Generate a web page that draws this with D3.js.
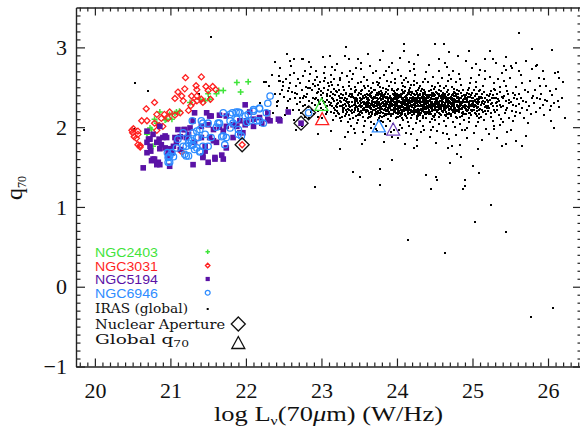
<!DOCTYPE html>
<html lang="en">
<head>
<meta charset="UTF-8">
<title>q70 vs log L70</title>
<script src="https://cdn.jsdelivr.net/npm/d3@7/dist/d3.min.js"></script>
<style>
  html, body { margin: 0; padding: 0; background: #fff; }
  svg { display: block; }
</style>
</head>
<body>
<div id="chart"></div>
<script>
// ---- tick values ----
const xMajor = [20, 21, 22, 23, 24, 25, 26];
const yMajor = [-1, 0, 1, 2, 3];

// ---- resolved galaxies: [log L70, q70] ----
const ngc2403 = [[21.88,2.56],[22.03,2.57],[21.93,2.44],[21.50,2.42],[21.61,2.42],[21.70,2.46],[21.64,2.46],[21.39,2.35],[21.46,2.33],[21.52,2.35],[20.86,2.19],[21.08,2.19],[20.95,2.10],[21.02,2.10],[20.82,2.05],[20.75,1.97],[20.77,1.76],[21.12,2.20],[21.06,2.17],[20.99,2.16],[20.79,2.10],[20.73,1.99],[20.69,1.93],[20.93,2.09],[21.26,2.31],[20.69,1.91]];

const ngc3031 = [[21.20,2.62],[21.41,2.63],[21.34,2.52],[21.47,2.51],[21.19,2.48],[21.10,2.44],[21.35,2.47],[21.50,2.46],[21.15,2.39],[21.28,2.39],[21.35,2.39],[21.41,2.35],[21.06,2.36],[20.79,2.31],[21.17,2.33],[21.30,2.31],[21.43,2.31],[21.27,2.27],[20.68,2.23],[20.99,2.19],[21.13,2.18],[21.06,2.15],[21.24,2.21],[20.82,2.16],[20.92,2.16],[20.88,2.11],[20.97,2.11],[20.69,2.08],[20.62,2.08],[20.79,2.05],[20.90,2.01],[20.51,1.98],[20.57,1.95],[20.50,1.93],[20.57,1.91],[20.52,1.88],[20.60,1.77],[20.82,1.96],[21.15,1.69],[20.85,2.02],[21.35,2.33],[20.49,1.96],[20.55,1.86],[20.57,1.78],[20.60,1.75],[21.56,2.51],[21.60,2.47],[21.53,2.35]];

const ngc5194 = [[21.99,2.28],[21.48,2.18],[21.54,2.14],[21.65,2.15],[21.74,2.14],[21.19,1.97],[21.26,1.99],[21.10,1.97],[21.41,2.01],[21.50,2.03],[21.57,1.97],[21.65,2.00],[21.74,2.01],[21.83,2.03],[21.92,2.08],[22.01,2.08],[22.10,2.10],[22.18,2.12],[22.29,2.10],[22.43,2.10],[22.56,2.19],[21.06,1.87],[20.90,1.87],[20.82,1.81],[20.86,1.73],[20.93,1.74],[20.97,1.68],[20.77,1.60],[20.86,1.53],[20.64,1.49],[20.73,1.76],[20.69,1.81],[21.21,1.87],[21.32,1.81],[21.41,1.87],[21.57,1.83],[21.46,1.76],[21.30,1.53],[21.50,1.56],[21.59,1.60],[21.68,1.65],[21.74,1.74],[21.83,1.87],[21.92,1.93],[20.99,1.51],[21.43,1.64],[22.05,2.19],[22.29,2.18],[22.45,2.08],[22.32,2.08],[22.21,2.05],[22.10,2.01],[21.99,2.03],[21.70,1.95],[21.61,1.81],[21.52,1.87],[21.30,2.08],[21.46,1.70],[21.59,1.62],[21.43,1.62],[21.70,1.60],[21.96,1.93],[21.88,2.01],[21.52,2.14],[21.32,2.18],[20.75,1.58],[20.84,1.56],[20.69,1.68],[20.71,1.85],[20.77,1.91],[20.86,2.01],[20.93,1.89],[21.04,1.76],[21.02,1.68],[20.97,1.64],[20.69,1.95],[21.18,1.97],[21.24,1.91],[21.13,1.88],[20.95,1.87],[20.73,1.85],[20.74,1.70],[20.79,1.60],[20.82,1.53],[20.99,1.73],[21.13,1.72],[20.85,1.85],[20.88,1.78],[21.08,1.81]];

const ngc6946 = [[22.32,2.39],[21.70,2.18],[21.79,2.16],[21.87,2.19],[21.92,2.18],[22.03,2.16],[22.10,2.22],[22.18,2.23],[22.27,2.18],[22.14,2.08],[22.23,2.05],[22.01,2.06],[21.88,2.10],[21.79,2.08],[21.65,2.05],[21.61,2.00],[21.41,2.08],[21.29,2.08],[21.39,1.97],[21.46,1.91],[21.54,1.87],[21.68,1.88],[21.74,1.87],[21.90,1.97],[21.94,1.89],[21.37,1.87],[21.24,1.85],[21.28,1.77],[21.35,1.74],[21.50,1.76],[21.39,1.69],[21.24,1.64],[21.10,1.85],[21.08,1.74],[21.02,1.68],[20.99,1.56],[20.97,1.62],[21.21,1.76],[21.17,1.93],[21.35,1.95],[21.72,1.78],[22.29,2.30],[22.18,2.24],[22.10,2.20],[21.90,2.19],[21.82,2.18],[21.50,2.05],[21.43,2.05],[21.35,1.87],[21.30,1.78],[21.43,1.76],[21.39,1.70],[21.32,1.72],[21.83,2.05],[22.05,2.08],[22.18,2.08],[21.99,2.14],[21.79,1.99],[21.70,1.89],[21.90,1.91],[21.63,2.05],[20.99,1.64],[20.97,1.56],[21.17,1.76],[21.19,1.66],[21.28,1.83],[21.30,1.93],[20.96,1.68],[21.04,1.63],[21.21,1.64],[21.24,1.80]];

// ---- IRAS global sample ----
const irasLeft = [[22.27,2.56],[22.45,2.58],[22.56,2.45],[22.67,2.41],[22.45,2.41],[22.58,2.35],[22.85,2.49],[22.96,2.53],[23.02,2.43],[22.91,2.35],[22.41,2.31],[22.78,2.28],[22.38,2.82],[22.44,2.64],[22.74,2.85],[22.58,2.66],[22.78,2.70],[22.65,2.43],[22.71,2.37],[22.56,2.20],[22.18,2.30],[22.49,2.56],
[22.31,2.52],[22.36,2.18],[22.38,2.41],[22.34,2.65],
[22.42,2.33],[22.44,2.58],[22.47,2.12],[22.45,2.74],[22.48,2.47],[22.41,2.27],
[22.51,2.38],[22.53,2.61],[22.55,2.24],[22.57,2.49],[22.58,2.83],[22.52,2.15],[22.56,2.33],[22.59,2.55],
[22.61,2.44],[22.62,2.21],[22.64,2.68],[22.65,2.36],[22.66,2.52],[22.68,2.29],[22.69,2.60],[22.63,2.09],[22.67,2.42],[22.60,2.77],
[22.71,2.31],[22.72,2.55],[22.73,2.18],[22.74,2.46],[22.75,2.64],[22.76,2.27],[22.77,2.39],[22.78,2.71],[22.79,2.50],[22.70,2.22],[22.75,2.36],[22.78,2.13],
[22.81,2.42],[22.82,2.25],[22.83,2.58],[22.84,2.33],[22.85,2.67],[22.86,2.19],[22.87,2.47],[22.88,2.30],[22.89,2.54],[22.80,2.38],[22.84,2.12],[22.86,2.75],[22.88,2.22],[22.82,2.49],[22.89,2.36],
[22.91,2.28],[22.92,2.51],[22.93,2.37],[22.94,2.63],[22.95,2.20],[22.96,2.44],[22.97,2.31],[22.98,2.57],[22.99,2.40],[22.90,2.16],[22.93,2.70],[22.95,2.34],[22.97,2.48],[22.99,2.24],[22.91,2.59],[22.96,2.13],[22.98,2.29],[22.94,2.43],
[23.01,2.36],[23.02,2.21],[23.03,2.49],[23.04,2.30],[23.05,2.62],[23.06,2.17],[23.07,2.41],[23.08,2.27],[23.09,2.55],[23.00,2.45],[23.02,2.33],[23.04,2.68],[23.06,2.25],[23.08,2.39],[23.01,2.12],[23.03,2.58],[23.05,2.31],[23.07,2.19],[23.09,2.46],[23.05,2.76],[23.02,2.43],[23.08,2.34],
[23.11,2.28],[23.12,2.44],[23.13,2.19],[23.14,2.53],[23.15,2.35],[23.16,2.24],[23.17,2.61],[23.18,2.40],[23.19,2.14],[23.10,2.31],[23.12,2.66],[23.14,2.27],[23.16,2.48],[23.18,2.21],[23.11,2.39],[23.13,2.56],[23.15,2.09],[23.17,2.33],[23.19,2.45],[23.10,2.52],[23.14,2.37],[23.16,2.18],[23.18,2.72],[23.12,2.30],[23.19,2.26],[23.15,2.42],
[23.21,2.34],[23.22,2.18],[23.23,2.47],[23.24,2.26],[23.25,2.59],[23.26,2.31],[23.27,2.13],[23.28,2.40],[23.29,2.22],[23.20,2.29],[23.22,2.53],[23.24,2.37],[23.26,2.08],[23.28,2.24],[23.21,2.44],[23.23,2.16],[23.25,2.33],[23.27,2.68],[23.29,2.28],[23.20,2.20],[23.23,2.39],[23.25,2.12],[23.27,2.36],[23.29,2.50],[23.21,2.25],[23.24,2.62],[23.26,2.42],[23.28,2.19],[23.22,2.30],[23.27,2.27],
[23.31,2.29],[23.32,2.41],[23.33,2.17],[23.34,2.35],[23.35,2.23],[23.36,2.52],[23.37,2.28],[23.38,2.10],[23.39,2.38],[23.30,2.46],[23.32,2.21],[23.34,2.64],[23.36,2.32],[23.38,2.25],[23.31,2.14],[23.33,2.43],[23.35,2.30],[23.37,2.57],[23.39,2.20],[23.30,2.34],[23.33,2.26],[23.35,2.06],[23.37,2.39],[23.39,2.48],[23.31,2.37],[23.34,2.19],[23.36,2.27],[23.38,2.71],[23.32,2.33],[23.36,2.15],[23.38,2.42],[23.30,2.24],[23.34,2.31],[23.37,2.22],
[23.41,2.26],[23.42,2.38],[23.43,2.19],[23.44,2.44],[23.45,2.31],[23.46,2.14],[23.47,2.35],[23.48,2.55],[23.49,2.23],[23.40,2.32],[23.42,2.11],[23.44,2.29],[23.46,2.47],[23.48,2.20],[23.41,2.61],[23.43,2.36],[23.45,2.24],[23.47,2.05],[23.49,2.40],[23.40,2.18],[23.43,2.28],[23.45,2.50],[23.47,2.33],[23.49,2.15],[23.41,2.42],[23.44,2.21],[23.46,2.37],[23.48,2.30],[23.42,2.67],[23.46,2.27],[23.48,2.09],[23.40,2.39],[23.44,2.34],[23.47,2.25],[23.43,1.98],[23.45,2.45],[23.49,2.30],[23.41,2.22]];

const irasMid = [[23.51,2.33],[23.52,2.20],[23.53,2.41],[23.54,2.27],[23.55,2.13],[23.56,2.36],[23.57,2.24],[23.58,2.49],[23.59,2.30],[23.50,2.17],[23.52,2.45],[23.54,2.35],[23.56,2.22],[23.58,2.08],[23.51,2.28],[23.53,2.56],[23.55,2.39],[23.57,2.31],[23.59,2.19],[23.50,2.43],[23.53,2.25],[23.55,2.32],[23.57,2.63],[23.59,2.38],[23.51,2.15],[23.54,2.46],[23.56,2.29],[23.58,2.21],[23.52,2.34],[23.56,2.02],[23.58,2.40],[23.50,2.26],[23.54,2.18],[23.57,2.52],[23.53,2.30],[23.55,2.23],[23.59,2.27],[23.51,2.37],[23.52,2.73],[23.55,1.94],
[23.61,2.25],[23.62,2.37],[23.63,2.18],[23.64,2.42],[23.65,2.29],[23.66,2.14],[23.67,2.33],[23.68,2.22],[23.69,2.47],[23.60,2.31],[23.62,2.11],[23.64,2.27],[23.66,2.39],[23.68,2.55],[23.61,2.20],[23.63,2.34],[23.65,2.06],[23.67,2.44],[23.69,2.26],[23.60,2.59],[23.63,2.30],[23.65,2.23],[23.67,2.16],[23.69,2.36],[23.61,2.40],[23.64,2.24],[23.66,2.49],[23.68,2.32],[23.62,2.28],[23.66,2.19],[23.68,2.68],[23.60,2.35],[23.64,2.13],[23.67,2.28],[23.63,2.45],[23.65,2.38],[23.69,2.21],[23.61,2.32],[23.62,2.52],[23.66,1.99],[23.64,2.77],[23.68,2.26],
[23.71,2.30],[23.72,2.19],[23.73,2.43],[23.74,2.26],[23.75,2.35],[23.76,2.12],[23.77,2.28],[23.78,2.50],[23.79,2.23],[23.70,2.38],[23.72,2.31],[23.74,2.16],[23.76,2.41],[23.78,2.27],[23.71,2.22],[23.73,2.57],[23.75,2.09],[23.77,2.36],[23.79,2.45],[23.70,2.25],[23.73,2.33],[23.75,2.20],[23.77,2.62],[23.79,2.29],[23.71,2.47],[23.74,2.37],[23.76,2.24],[23.78,2.14],[23.72,2.40],[23.76,2.32],[23.78,2.21],[23.70,2.04],[23.74,2.29],[23.77,2.18],[23.73,2.26],[23.75,2.53],[23.79,2.34],[23.71,2.17],[23.72,2.70],[23.75,2.28],[23.77,2.42],[23.79,2.08],[23.74,1.95],[23.76,2.55],
[23.81,2.27],[23.82,2.39],[23.83,2.21],[23.84,2.33],[23.85,2.15],[23.86,2.44],[23.87,2.29],[23.88,2.24],[23.89,2.52],[23.80,2.35],[23.82,2.18],[23.84,2.41],[23.86,2.30],[23.88,2.10],[23.81,2.36],[23.83,2.28],[23.85,2.48],[23.87,2.22],[23.89,2.32],[23.80,2.13],[23.83,2.40],[23.85,2.26],[23.87,2.58],[23.89,2.19],[23.81,2.31],[23.84,2.23],[23.86,2.37],[23.88,2.46],[23.82,2.06],[23.86,2.20],[23.88,2.34],[23.80,2.43],[23.84,2.29],[23.87,2.16],[23.83,2.65],[23.85,2.32],[23.89,2.25],[23.81,2.49],[23.82,2.27],[23.85,2.01],[23.87,2.38],[23.89,2.75],[23.84,1.92],[23.86,2.25],[23.80,2.30],[23.88,2.17],
[23.91,2.24],[23.92,2.36],[23.93,2.29],[23.94,2.17],[23.95,2.42],[23.96,2.31],[23.97,2.21],[23.98,2.38],[23.99,2.26],[23.90,2.51],[23.92,2.14],[23.94,2.33],[23.96,2.45],[23.98,2.19],[23.91,2.39],[23.93,2.22],[23.95,2.28],[23.97,2.55],[23.99,2.11],[23.90,2.32],[23.93,2.46],[23.95,2.16],[23.97,2.35],[23.99,2.40],[23.91,2.08],[23.94,2.27],[23.96,2.23],[23.98,2.61],[23.92,2.30],[23.96,2.37],[23.98,2.25],[23.90,2.19],[23.94,2.48],[23.97,2.29],[23.93,2.34],[23.95,2.21],[23.99,2.32],[23.91,2.27],[23.92,2.57],[23.95,2.04],[23.97,2.43],[23.99,2.18],[23.94,2.68],[23.96,1.97],[23.90,2.36],[23.98,2.30],[23.93,1.88],[23.95,2.35],
[24.01,2.31],[24.02,2.22],[24.03,2.40],[24.04,2.27],[24.05,2.15],[24.06,2.35],[24.07,2.25],[24.08,2.44],[24.09,2.20],[24.00,2.29],[24.02,2.37],[24.04,2.18],[24.06,2.28],[24.08,2.52],[24.01,2.24],[24.03,2.33],[24.05,2.41],[24.07,2.12],[24.09,2.30],[24.00,2.46],[24.03,2.19],[24.05,2.26],[24.07,2.36],[24.09,2.59],[24.01,2.16],[24.04,2.32],[24.06,2.21],[24.08,2.29],[24.02,2.48],[24.06,2.42],[24.08,2.09],[24.00,2.23],[24.04,2.38],[24.07,2.31],[24.03,2.26],[24.05,2.64],[24.09,2.34],[24.01,2.39],[24.02,2.13],[24.05,2.22],[24.07,2.47],[24.09,2.24],[24.04,2.03],[24.06,2.55],[24.00,2.34],[24.08,2.36],[24.03,1.96],[24.05,2.30],[24.01,2.72],[24.07,2.19],
[24.11,2.28],[24.12,2.39],[24.13,2.21],[24.14,2.34],[24.15,2.25],[24.16,2.46],[24.17,2.18],[24.18,2.31],[24.19,2.37],[24.10,2.23],[24.12,2.14],[24.14,2.29],[24.16,2.41],[24.18,2.26],[24.11,2.50],[24.13,2.33],[24.15,2.20],[24.17,2.36],[24.19,2.11],[24.10,2.38],[24.13,2.27],[24.15,2.43],[24.17,2.30],[24.19,2.22],[24.11,2.16],[24.14,2.56],[24.16,2.32],[24.18,2.19],[24.12,2.35],[24.16,2.24],[24.18,2.44],[24.10,2.30],[24.14,2.07],[24.17,2.27],[24.13,2.40],[24.15,2.32],[24.19,2.28],[24.11,2.34],[24.12,2.62],[24.15,2.17],[24.17,2.49],[24.19,2.33],[24.14,2.23],[24.16,2.01],[24.10,2.45],[24.18,2.37],[24.13,2.12],[24.15,2.29],[24.11,2.21],[24.17,2.70],[24.12,1.93],[24.19,2.53],
[24.21,2.33],[24.22,2.24],[24.23,2.42],[24.24,2.19],[24.25,2.30],[24.26,2.37],[24.27,2.22],[24.28,2.47],[24.29,2.27],[24.20,2.35],[24.22,2.16],[24.24,2.31],[24.26,2.26],[24.28,2.39],[24.21,2.20],[24.23,2.53],[24.25,2.34],[24.27,2.13],[24.29,2.40],[24.20,2.25],[24.23,2.29],[24.25,2.45],[24.27,2.35],[24.29,2.18],[24.21,2.38],[24.24,2.28],[24.26,2.10],[24.28,2.32],[24.22,2.58],[24.26,2.43],[24.28,2.23],[24.20,2.15],[24.24,2.36],[24.27,2.30],[24.23,2.21],[24.25,2.26],[24.29,2.49],[24.21,2.28],[24.22,2.34],[24.25,2.05],[24.27,2.41],[24.29,2.32],[24.24,2.66],[24.26,2.19],[24.20,2.44],[24.28,2.14],[24.23,2.36],[24.25,2.22],[24.21,1.98],[24.27,2.55],[24.22,2.79],[24.29,2.26],
[24.31,2.26],[24.32,2.37],[24.33,2.20],[24.34,2.32],[24.35,2.43],[24.36,2.23],[24.37,2.29],[24.38,2.16],[24.39,2.35],[24.30,2.41],[24.32,2.28],[24.34,2.14],[24.36,2.38],[24.38,2.25],[24.31,2.33],[24.33,2.48],[24.35,2.21],[24.37,2.31],[24.39,2.19],[24.30,2.27],[24.33,2.36],[24.35,2.11],[24.37,2.44],[24.39,2.30],[24.31,2.52],[24.34,2.24],[24.36,2.30],[24.38,2.40],[24.32,2.18],[24.36,2.46],[24.38,2.33],[24.30,2.22],[24.34,2.39],[24.37,2.17],[24.33,2.27],[24.35,2.34],[24.39,2.23],[24.31,2.08],[24.32,2.45],[24.35,2.28],[24.37,2.60],[24.39,2.37],[24.34,2.02],[24.36,2.26],[24.30,2.34],[24.38,2.12],[24.33,2.31],[24.35,2.57],[24.31,2.40],[24.37,2.24],[24.32,1.94],[24.39,2.69],
[24.41,2.30],[24.42,2.21],[24.43,2.38],[24.44,2.27],[24.45,2.17],[24.46,2.35],[24.47,2.25],[24.48,2.43],[24.49,2.29],[24.40,2.19],[24.42,2.33],[24.44,2.40],[24.46,2.23],[24.48,2.14],[24.41,2.36],[24.43,2.28],[24.45,2.47],[24.47,2.32],[24.49,2.22],[24.40,2.38],[24.43,2.18],[24.45,2.31],[24.47,2.10],[24.49,2.42],[24.41,2.24],[24.44,2.34],[24.46,2.51],[24.48,2.27],[24.42,2.45],[24.46,2.29],[24.48,2.35],[24.40,2.26],[24.44,2.16],[24.47,2.39],[24.43,2.33],[24.45,2.24],[24.49,2.13],[24.41,2.56],[24.42,2.28],[24.45,2.37],[24.47,2.20],[24.49,2.48],[24.44,2.06],[24.46,2.41],[24.40,2.31],[24.48,2.63],[24.43,2.25],[24.45,1.97],[24.41,2.19],[24.47,2.30]];

const irasRight = [[24.51,2.27],[24.52,2.36],[24.53,2.19],[24.54,2.31],[24.55,2.42],[24.56,2.24],[24.57,2.33],[24.58,2.15],[24.59,2.29],[24.50,2.40],[24.52,2.22],[24.54,2.37],[24.56,2.30],[24.58,2.45],[24.51,2.17],[24.53,2.34],[24.55,2.26],[24.57,2.51],[24.59,2.20],[24.50,2.32],[24.53,2.43],[24.55,2.13],[24.57,2.28],[24.59,2.38],[24.51,2.35],[24.54,2.21],[24.56,2.46],[24.58,2.25],[24.52,2.31],[24.56,2.18],[24.58,2.36],[24.50,2.24],[24.54,2.55],[24.57,2.23],[24.53,2.29],[24.55,2.39],[24.59,2.32],[24.51,2.09],[24.52,2.44],[24.55,2.30],[24.57,2.16],[24.59,2.62],[24.54,2.27],[24.56,2.04],[24.50,2.50],[24.58,2.33],[24.53,1.95],[24.55,2.71],
[24.61,2.32],[24.62,2.24],[24.63,2.41],[24.64,2.28],[24.65,2.19],[24.66,2.36],[24.67,2.26],[24.68,2.47],[24.69,2.21],[24.60,2.30],[24.62,2.38],[24.64,2.15],[24.66,2.31],[24.68,2.25],[24.61,2.43],[24.63,2.22],[24.65,2.34],[24.67,2.12],[24.69,2.37],[24.60,2.27],[24.63,2.30],[24.65,2.52],[24.67,2.33],[24.69,2.18],[24.61,2.20],[24.64,2.39],[24.66,2.27],[24.68,2.35],[24.62,2.08],[24.66,2.44],[24.68,2.16],[24.60,2.40],[24.64,2.29],[24.67,2.58],[24.63,2.36],[24.65,2.25],[24.69,2.30],[24.61,2.28],[24.62,2.49],[24.65,2.01],[24.67,2.40],[24.69,2.65],[24.64,2.23],[24.66,1.92],[24.60,2.34],[24.68,2.29],
[24.71,2.29],[24.72,2.38],[24.73,2.21],[24.74,2.33],[24.75,2.25],[24.76,2.44],[24.77,2.18],[24.78,2.31],[24.79,2.36],[24.70,2.23],[24.72,2.14],[24.74,2.41],[24.76,2.28],[24.78,2.20],[24.71,2.35],[24.73,2.50],[24.75,2.30],[24.77,2.24],[24.79,2.11],[24.70,2.37],[24.73,2.26],[24.75,2.39],[24.77,2.32],[24.79,2.46],[24.71,2.16],[24.74,2.27],[24.76,2.35],[24.78,2.56],[24.72,2.30],[24.76,2.19],[24.78,2.40],[24.70,2.32],[24.74,2.07],[24.77,2.43],[24.73,2.34],[24.75,2.22],[24.79,2.28],[24.71,2.61],[24.72,2.25],[24.75,2.48],[24.77,2.00],[24.79,2.33],[24.74,2.70],[24.76,2.24],
[24.81,2.31],[24.82,2.22],[24.83,2.37],[24.84,2.27],[24.85,2.43],[24.86,2.18],[24.87,2.33],[24.88,2.25],[24.89,2.40],[24.80,2.28],[24.82,2.35],[24.84,2.13],[24.86,2.30],[24.88,2.47],[24.81,2.20],[24.83,2.29],[24.85,2.36],[24.87,2.16],[24.89,2.26],[24.80,2.42],[24.83,2.23],[24.85,2.53],[24.87,2.31],[24.89,2.09],[24.81,2.38],[24.84,2.32],[24.86,2.24],[24.88,2.34],[24.82,2.45],[24.86,2.39],[24.88,2.19],[24.80,2.21],[24.84,2.60],[24.87,2.27],[24.83,2.04],[24.85,2.29],[24.89,2.35],[24.81,2.27],[24.82,2.67],[24.86,1.96],
[24.91,2.27],[24.92,2.36],[24.93,2.20],[24.94,2.31],[24.95,2.42],[24.96,2.24],[24.97,2.33],[24.98,2.15],[24.99,2.29],[24.90,2.38],[24.92,2.23],[24.94,2.47],[24.96,2.30],[24.98,2.40],[24.91,2.17],[24.93,2.34],[24.95,2.26],[24.97,2.55],[24.99,2.21],[24.90,2.31],[24.93,2.43],[24.95,2.11],[24.97,2.28],[24.99,2.37],[24.91,2.35],[24.94,2.22],[24.96,2.49],[24.98,2.26],[24.92,2.31],[24.96,2.06],[24.98,2.62],[24.90,2.24],[24.94,2.38],[24.97,2.18],[24.93,1.99],[24.99,2.74],
[25.01,2.30],[25.02,2.22],[25.03,2.39],[25.04,2.27],[25.05,2.16],[25.06,2.35],[25.07,2.25],[25.08,2.45],[25.09,2.31],[25.00,2.20],[25.02,2.33],[25.04,2.41],[25.06,2.24],[25.08,2.12],[25.01,2.37],[25.03,2.28],[25.05,2.50],[25.07,2.33],[25.09,2.21],[25.00,2.43],[25.03,2.18],[25.05,2.32],[25.07,2.07],[25.09,2.38],[25.01,2.26],[25.04,2.57],[25.06,2.30],[25.08,2.35],[25.02,2.47],[25.06,2.14],[25.08,2.66],[25.04,2.02],
[25.11,2.28],[25.12,2.37],[25.13,2.21],[25.14,2.33],[25.15,2.44],[25.16,2.25],[25.17,2.31],[25.18,2.16],[25.19,2.40],[25.10,2.23],[25.12,2.30],[25.14,2.52],[25.16,2.36],[25.18,2.27],[25.11,2.13],[25.13,2.42],[25.15,2.29],[25.17,2.20],[25.19,2.34],[25.10,2.46],[25.13,2.31],[25.15,2.09],[25.17,2.60],[25.19,2.24],[25.11,2.38],[25.14,2.19],[25.16,2.70],[25.18,1.98],
[25.21,2.33],[25.22,2.24],[25.23,2.41],[25.24,2.29],[25.25,2.18],[25.26,2.37],[25.27,2.27],[25.28,2.48],[25.29,2.21],[25.20,2.31],[25.22,2.39],[25.24,2.13],[25.26,2.30],[25.28,2.55],[25.21,2.20],[25.23,2.34],[25.25,2.45],[25.27,2.08],[25.29,2.36],[25.20,2.26],[25.23,2.63],[25.25,2.29],[25.27,2.40],[25.29,2.02],
[25.31,2.30],[25.32,2.42],[25.33,2.22],[25.34,2.35],[25.35,2.15],[25.36,2.28],[25.37,2.50],[25.38,2.25],[25.39,2.38],[25.30,2.19],[25.32,2.31],[25.34,2.60],[25.36,2.44],[25.38,2.10],[25.31,2.36],[25.33,2.27],[25.35,2.33],[25.37,2.03],[25.39,2.68],[25.30,2.47],
[25.41,2.27],[25.42,2.39],[25.43,2.18],[25.44,2.33],[25.45,2.52],[25.46,2.24],[25.47,2.41],[25.48,2.12],[25.49,2.30],[25.40,2.36],[25.42,2.58],[25.44,2.21],[25.46,2.45],[25.48,2.34],[25.41,2.06],[25.45,2.72],
[25.51,2.31],[25.52,2.20],[25.53,2.43],[25.54,2.28],[25.55,2.37],[25.56,2.14],[25.57,2.50],[25.58,2.26],[25.59,2.35],[25.50,2.62],[25.53,2.08],[25.56,2.40],[25.58,2.19],
[25.61,2.29],[25.62,2.41],[25.63,2.18],[25.64,2.36],[25.65,2.55],[25.66,2.24],[25.67,2.33],[25.68,2.11],[25.69,2.46],[25.64,2.66],
[25.71,2.32],[25.72,2.21],[25.74,2.44],[25.75,2.27],[25.76,2.58],[25.78,2.16],[25.79,2.37],[25.73,2.05],
[25.81,2.30],[25.83,2.47],[25.84,2.19],[25.86,2.36],[25.88,2.62],[25.89,2.24],
[25.91,2.41],[25.93,2.28],[25.95,2.15],[25.97,2.52],[25.99,2.33],
[26.02,2.21],[26.05,2.40],[26.08,2.30],[26.11,2.48],[26.14,2.25],[26.18,2.37],[26.22,2.12]];

// extra points in the crowded core of the cloud
const irasCore = [[23.505,2.27],[23.525,2.35],[23.545,2.21],[23.565,2.31],[23.585,2.25],[23.515,2.19],[23.555,2.38],[23.595,2.29],
[23.605,2.21],[23.615,2.33],[23.625,2.27],[23.635,2.16],[23.645,2.39],[23.655,2.24],[23.665,2.30],[23.675,2.19],[23.685,2.35],[23.695,2.28],[23.605,2.41],[23.625,2.13],[23.645,2.25],[23.665,2.37],[23.685,2.22],[23.615,2.29],[23.655,2.43],[23.675,2.32],
[23.705,2.26],[23.715,2.38],[23.725,2.23],[23.735,2.31],[23.745,2.18],[23.755,2.40],[23.765,2.29],[23.775,2.21],[23.785,2.34],[23.795,2.25],[23.705,2.15],[23.725,2.36],[23.745,2.28],[23.765,2.44],[23.785,2.19],[23.715,2.32],[23.755,2.24],[23.795,2.39],
[23.805,2.23],[23.815,2.35],[23.825,2.29],[23.835,2.17],[23.845,2.38],[23.855,2.26],[23.865,2.32],[23.875,2.20],[23.885,2.41],[23.895,2.28],[23.805,2.40],[23.825,2.14],[23.845,2.27],[23.865,2.36],[23.885,2.22],[23.815,2.30],[23.855,2.44],[23.895,2.18],
[23.905,2.29],[23.915,2.21],[23.925,2.37],[23.935,2.26],[23.945,2.33],[23.955,2.19],[23.965,2.40],[23.975,2.27],[23.985,2.23],[23.995,2.35],[23.905,2.16],[23.925,2.31],[23.945,2.42],[23.965,2.24],[23.985,2.38],[23.915,2.34],[23.955,2.28],[23.995,2.13],
[24.005,2.26],[24.015,2.36],[24.025,2.20],[24.035,2.31],[24.045,2.24],[24.055,2.39],[24.065,2.17],[24.075,2.29],[24.085,2.33],[24.095,2.22],[24.005,2.41],[24.025,2.27],[24.045,2.14],[24.065,2.35],[24.085,2.25],[24.015,2.19],[24.055,2.30],[24.095,2.43],
[24.105,2.32],[24.115,2.24],[24.125,2.29],[24.135,2.37],[24.145,2.18],[24.155,2.27],[24.165,2.34],[24.175,2.21],[24.185,2.40],[24.195,2.26],[24.105,2.15],[24.125,2.39],[24.145,2.30],[24.165,2.23],[24.185,2.12],[24.115,2.35],[24.155,2.44],[24.195,2.31],
[24.205,2.27],[24.215,2.19],[24.225,2.34],[24.235,2.25],[24.245,2.40],[24.255,2.22],[24.265,2.31],[24.275,2.28],[24.285,2.17],[24.295,2.36],[24.205,2.43],[24.225,2.23],[24.245,2.29],[24.265,2.14],[24.285,2.33],[24.215,2.38],[24.255,2.26],[24.295,2.20],
[24.305,2.30],[24.315,2.23],[24.325,2.38],[24.335,2.27],[24.345,2.20],[24.355,2.35],[24.365,2.25],[24.375,2.41],[24.385,2.29],[24.395,2.18],[24.305,2.15],[24.325,2.32],[24.345,2.42],[24.365,2.33],[24.385,2.24],[24.315,2.36],[24.355,2.19],[24.395,2.31],
[24.405,2.24],[24.415,2.33],[24.425,2.28],[24.435,2.19],[24.445,2.37],[24.455,2.26],[24.465,2.31],[24.475,2.22],[24.485,2.39],[24.495,2.27],[24.405,2.40],[24.425,2.16],[24.445,2.29],[24.465,2.43],[24.485,2.21],[24.415,2.26],[24.455,2.35],[24.495,2.14],
[24.505,2.29],[24.515,2.21],[24.525,2.36],[24.535,2.25],[24.545,2.32],[24.555,2.18],[24.565,2.39],[24.575,2.27],[24.585,2.23],[24.595,2.34],[24.505,2.15],[24.525,2.30],[24.545,2.41],[24.565,2.24],[24.585,2.37],[24.515,2.33],[24.555,2.28],[24.595,2.20],
[24.605,2.26],[24.615,2.35],[24.625,2.21],[24.635,2.30],[24.645,2.24],[24.655,2.38],[24.665,2.17],[24.675,2.29],[24.685,2.33],[24.695,2.23],[24.605,2.40],[24.625,2.27],[24.645,2.14],[24.665,2.36],[24.685,2.26],[24.615,2.19],[24.655,2.31],[24.695,2.42],
[24.705,2.31],[24.715,2.24],[24.725,2.29],[24.735,2.37],[24.745,2.19],[24.755,2.27],[24.765,2.34],[24.775,2.22],[24.785,2.39],[24.795,2.26],[24.705,2.16],[24.725,2.40],[24.745,2.30],[24.765,2.23],[24.785,2.13],[24.715,2.35],[24.755,2.43],[24.795,2.32],
[24.805,2.25],[24.815,2.33],[24.825,2.19],[24.835,2.29],[24.845,2.37],[24.855,2.23],[24.865,2.31],[24.875,2.27],[24.885,2.16],[24.895,2.35],[24.805,2.41],[24.825,2.24],[24.845,2.28],[24.865,2.14],[24.885,2.32],
[24.905,2.28],[24.915,2.21],[24.925,2.35],[24.935,2.25],[24.945,2.31],[24.955,2.18],[24.965,2.38],[24.975,2.26],[24.985,2.22],[24.995,2.33],[24.915,2.40],[24.955,2.29],
[25.015,2.25],[25.035,2.34],[25.055,2.20],[25.075,2.29],[25.095,2.37],[25.025,2.28],[25.065,2.41],[25.085,2.16]];

const irasScatter = [[23.12,1.95],[23.31,1.88],[23.45,1.93],[23.58,1.84],[23.66,1.90],[23.83,1.81],[23.92,1.94],[24.02,1.86],[24.11,1.79],[24.18,1.91],[24.27,1.84],[24.36,1.96],[24.44,1.88],[24.52,1.80],[24.61,1.93],[24.69,1.85],[24.78,1.90],[24.84,1.78],[24.93,1.87],[25.02,1.93],[25.12,1.84],[25.22,1.91],[25.33,1.86],[25.46,1.94],[25.57,1.83],[23.72,1.98],[24.06,1.99],[24.48,2.00],[24.90,1.97],[23.39,2.01],[25.28,1.98],[22.95,1.92],[22.74,2.02],[22.66,1.97],[23.54,1.79],[24.23,1.74],[24.73,1.76],[25.07,1.73],
[22.84,2.82],[23.02,2.88],[23.21,2.79],[23.36,2.86],[23.53,2.81],[23.62,2.92],[23.77,2.84],[23.93,2.80],[24.04,2.87],[24.16,2.82],[24.28,2.90],[24.42,2.78],[24.55,2.85],[24.63,2.80],[24.81,2.89],[24.92,2.83],[25.05,2.79],[25.17,2.86],[25.31,2.81],[25.44,2.88],[25.58,2.80],[25.71,2.83],[25.84,2.77],[23.46,2.74],[23.86,2.71],[24.22,2.73],[24.66,2.76],[25.10,2.72],[25.52,2.74],[23.14,2.75],[22.63,2.86],[22.55,2.92],[25.94,2.70],[26.14,2.62]];

const irasOutliers = [[23.33,3.01],[23.11,2.89],[23.31,2.89],[23.48,2.86],[23.81,2.96],[24.09,3.04],[24.09,2.96],[24.51,3.04],[24.62,3.04],[24.69,2.94],[24.96,2.96],[25.23,2.95],[25.27,2.85],[25.62,3.18],[25.79,2.98],[26.05,2.97],[22.76,2.85],[21.54,3.13],
[23.24,1.73],[23.42,1.44],[23.51,1.37],[22.91,1.25],[23.78,1.47],[23.78,1.27],[23.93,1.59],[24.38,1.40],[24.52,1.38],[24.70,1.55],[24.90,1.26],[25.01,1.51],[25.09,1.43],[24.79,1.66],[25.39,1.76],[25.66,1.76],[23.35,1.94],[24.26,1.77],[24.67,1.74],[24.85,1.62],[24.45,1.22],[24.88,1.22],[24.53,1.34],[24.90,1.34],[25.24,1.03],[25.03,0.81],[25.44,0.68],[24.14,0.58],[24.64,0.42],[26.07,-0.27],[25.77,-0.38],
[26.09,2.68],[26.13,2.69],[26.20,2.56],[26.02,2.45],[26.13,2.33],[26.04,2.26],[26.04,2.08],[26.08,1.99],[25.71,1.89],[25.51,1.96],[25.44,1.79],[25.42,2.77],[25.51,2.77],[25.62,2.71],[25.79,2.73],[25.86,2.78],[25.95,2.61],[25.90,2.52],[25.80,2.39],[25.89,2.35],[25.96,2.34],
[20.53,2.55],[20.70,2.45],[19.86,1.96],[20.52,1.98],[21.38,2.42],[21.51,2.38],[22.24,2.56],[22.38,2.82],[22.49,2.52]];

// ---- nuclear apertures and global values ----
const nucGalaxy = ["NGC3031", "NGC5194", "NGC6946"];
const nucL = [21.95, 22.73, 22.83];
const nucQ = [1.78, 2.05, 2.18];

const globGalaxy = ["NGC2403", "NGC3031", "NGC6946", "NGC5194"];
const globL = [23.00, 23.01, 23.76, 23.95];
const globQ = [2.28, 2.10, 2.01, 1.97];

const legendNames = ["NGC2403", "NGC3031", "NGC5194", "NGC6946"];

// ---- styles ----
const colors = { NGC2403: "#3fe43a", NGC3031: "#ff1f1f", NGC5194: "#5a12a6", NGC6946: "#2e8cff" };
const triColors = { NGC2403: "#3fe43a", NGC3031: "#ff1f1f", NGC5194: "#7447bf", NGC6946: "#2e8cff" };

const W = 580, H = 431;
const svg = d3.select("#chart").append("svg").attr("width", W).attr("height", H);

const x = d3.scaleLinear().domain([19.75, 26.45]).range([76, 582]);
const y = d3.scaleLinear().domain([-1, 3.5]).range([366.5, 7.5]);

// symbol drawer, one per galaxy
function drawSymbol(g, name, s) {
  s = s || 1;
  const c = colors[name];
  if (name === "NGC2403") {
    g.append("path").attr("d", `M${-3*s},0H${3*s}M0,${-3*s}V${3*s}`)
      .attr("stroke", c).attr("stroke-width", 1.5).attr("fill", "none");
  } else if (name === "NGC3031") {
    g.append("path").attr("d", `M0,${-3*s}L${3*s},0L0,${3*s}L${-3*s},0Z`)
      .attr("stroke", c).attr("stroke-width", 1.3).attr("fill", "none");
  } else if (name === "NGC5194") {
    g.append("rect").attr("x", -2.8*s).attr("y", -2.8*s).attr("width", 5.6*s).attr("height", 5.6*s)
      .attr("fill", c);
  } else {
    g.append("circle").attr("r", 3.2*s)
      .attr("stroke", c).attr("stroke-width", 1.3).attr("fill", "none");
  }
}

// ---- IRAS dots ----
const allIras = irasLeft.concat(irasMid, irasRight, irasCore, irasScatter, irasOutliers);
svg.append("g").selectAll("rect").data(allIras).join("rect")
  .attr("x", d => x(d[0]) - 1).attr("y", d => y(d[1]) - 1)
  .attr("width", 2).attr("height", 2).attr("fill", "#000")
  .attr("shape-rendering", "crispEdges");

// ---- galaxies ----
const gal = { NGC2403: ngc2403, NGC3031: ngc3031, NGC5194: ngc5194, NGC6946: ngc6946 };
legendNames.forEach(name => {
  gal[name].forEach(d => {
    const g = svg.append("g").attr("transform", `translate(${x(d[0])},${y(d[1])})`);
    drawSymbol(g, name);
  });
});

// nuclear apertures (diamond + galaxy symbol)
nucL.forEach((L, i) => {
  const g = svg.append("g").attr("transform", `translate(${x(L)},${y(nucQ[i])})`);
  drawSymbol(g, nucGalaxy[i]);
  g.append("path").attr("d", "M0,-7L7,0L0,7L-7,0Z")
    .attr("fill", "none").attr("stroke", "#111").attr("stroke-width", 1.3);
});

// global q70 triangles
const tri = "M0,-6.5L6.5,5.5L-6.5,5.5Z";
globL.forEach((L, i) => {
  svg.append("path").attr("d", tri)
    .attr("transform", `translate(${x(L)},${y(globQ[i])})`)
    .attr("fill", "none").attr("stroke", triColors[globGalaxy[i]]).attr("stroke-width", 1.3);
});

// ---- axes ----
const axisStroke = "#222";
function styleAxis(g) {
  g.selectAll("path.domain").attr("stroke", axisStroke).attr("stroke-width", 1.4);
  g.selectAll(".tick line").attr("stroke", axisStroke).attr("stroke-width", 1.2);
}
const xMinor = d3.range(198, 265).map(v => v / 10).filter(v => Math.abs(v - Math.round(v)) > 0.01);
const yMinor = d3.range(-9, 35).map(v => v / 10).filter(v => Math.abs(v - Math.round(v)) > 0.01);

// bottom
const gb = svg.append("g").attr("transform", "translate(0,366.5)")
  .call(d3.axisBottom(x).tickValues(xMajor).tickSize(-8).tickSizeOuter(0).tickFormat(d3.format("d")));
styleAxis(gb);
gb.selectAll("text").attr("y", 31).attr("dy", 0)
  .attr("font-family", "Liberation Serif, serif").attr("font-size", 22).attr("fill", "#111");
const gbm = svg.append("g").attr("transform", "translate(0,366.5)")
  .call(d3.axisBottom(x).tickValues(xMinor).tickSize(-4).tickFormat(() => ""));
gbm.select(".domain").remove(); styleAxis(gbm);

// top
const gt = svg.append("g").attr("transform", "translate(0,7.5)")
  .call(d3.axisTop(x).tickValues(xMajor).tickSize(-8).tickSizeOuter(0).tickFormat(() => ""));
styleAxis(gt);
const gtm = svg.append("g").attr("transform", "translate(0,7.5)")
  .call(d3.axisTop(x).tickValues(xMinor).tickSize(-4).tickFormat(() => ""));
gtm.select(".domain").remove(); styleAxis(gtm);

// left
const gl = svg.append("g").attr("transform", "translate(76,0)")
  .call(d3.axisLeft(y).tickValues(yMajor).tickSize(-9).tickSizeOuter(0)
    .tickFormat(d => d < 0 ? "\u2212" + Math.abs(d) : d));
styleAxis(gl);
gl.selectAll("text").attr("x", -9).attr("dy", "0.33em")
  .attr("font-family", "Liberation Serif, serif").attr("font-size", 22).attr("fill", "#111");
const glm = svg.append("g").attr("transform", "translate(76,0)")
  .call(d3.axisLeft(y).tickValues(yMinor).tickSize(-4.5).tickFormat(() => ""));
glm.select(".domain").remove(); styleAxis(glm);

// right (sits just off the canvas edge)
const gr = svg.append("g").attr("transform", "translate(582,0)")
  .call(d3.axisRight(y).tickValues(yMajor).tickSize(-9).tickSizeOuter(0).tickFormat(() => ""));
styleAxis(gr);
const grm = svg.append("g").attr("transform", "translate(582,0)")
  .call(d3.axisRight(y).tickValues(yMinor).tickSize(-4.5).tickFormat(() => ""));
grm.select(".domain").remove(); styleAxis(grm);

// ---- axis titles ----
const xt = svg.append("text").attr("x", 214).attr("y", 421)
  .attr("font-family", "Liberation Serif, serif").attr("font-size", 22).attr("fill", "#111")
  .attr("textLength", 229).attr("lengthAdjust", "spacingAndGlyphs");
xt.append("tspan").text("log L");
xt.append("tspan").attr("font-size", 13).attr("dy", 4).text("\u03bd");
xt.append("tspan").attr("dy", -4).text("(70");
xt.append("tspan").attr("font-style", "italic").text("\u03bc");
xt.append("tspan").text("m) (W/Hz)");

const yt = svg.append("text").attr("transform", "translate(22,200) rotate(-90)")
  .attr("font-family", "Liberation Serif, serif").attr("font-size", 24).attr("fill", "#111");
yt.append("tspan").text("q");
yt.append("tspan").attr("font-size", 12).attr("dy", 4).text("70");

// ---- legend ----
const lgX = 95, symX = 207.7;
const lgBase = [256.7, 270.5, 284, 297.7];
legendNames.forEach((name, i) => {
  svg.append("text").attr("x", lgX).attr("y", lgBase[i])
    .attr("font-family", "Liberation Sans, Arial, sans-serif").attr("font-size", 13)
    .attr("fill", colors[name]).attr("textLength", 63).attr("lengthAdjust", "spacingAndGlyphs")
    .text(name);
  const g = svg.append("g").attr("transform", `translate(${symX},${lgBase[i] - 5})`);
  drawSymbol(g, name, 0.75);
});

const serifLegend = "DejaVu Serif, serif";
svg.append("text").attr("x", lgX).attr("y", 313)
  .attr("font-family", serifLegend).attr("font-size", 12.5).attr("fill", "#111")
  .attr("textLength", 93).attr("lengthAdjust", "spacingAndGlyphs").text("IRAS (global)");
svg.append("rect").attr("x", symX - 1).attr("y", 308).attr("width", 2).attr("height", 2).attr("fill", "#000");

svg.append("text").attr("x", lgX).attr("y", 329)
  .attr("font-family", serifLegend).attr("font-size", 12.5).attr("fill", "#111")
  .attr("textLength", 130).attr("lengthAdjust", "spacingAndGlyphs").text("Nuclear Aperture");
svg.append("path").attr("d", "M0,-7L7,0L0,7L-7,0Z").attr("transform", "translate(238.3,324)")
  .attr("fill", "none").attr("stroke", "#111").attr("stroke-width", 1.3);

const gq = svg.append("text").attr("x", lgX).attr("y", 343.5)
  .attr("font-family", serifLegend).attr("font-size", 13.5).attr("fill", "#111")
  .attr("textLength", 94).attr("lengthAdjust", "spacingAndGlyphs");
gq.append("tspan").text("Global q");
gq.append("tspan").attr("font-size", 9).attr("dy", 3).text("70");
svg.append("path").attr("d", tri).attr("transform", "translate(238.3,343)")
  .attr("fill", "none").attr("stroke", "#111").attr("stroke-width", 1.3);
</script>
</body>
</html>
